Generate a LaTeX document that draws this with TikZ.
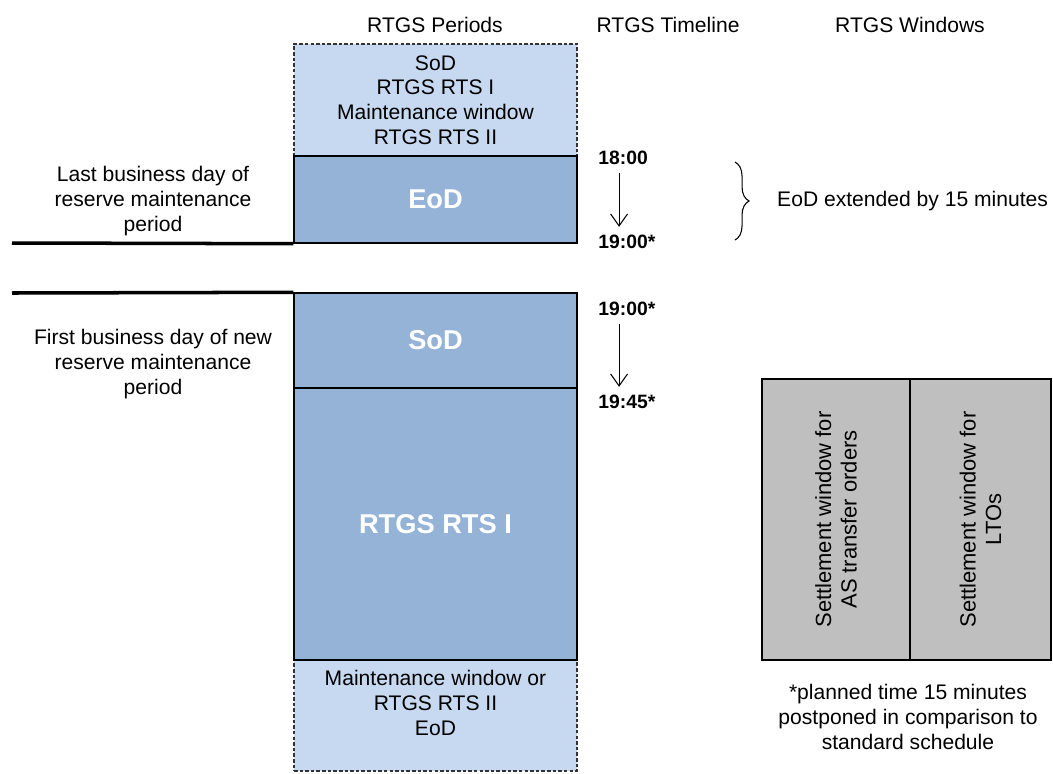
\documentclass[tikz,border=0pt]{standalone}
\usepackage{fontspec}
\setmainfont{Liberation Sans}
\usetikzlibrary{positioning, arrows.meta, calc, decorations.pathreplacing}

\definecolor{lightperiod}{HTML}{C6D9F1}
\definecolor{darkperiod}{HTML}{95B3D7}
\definecolor{windowgray}{HTML}{BFBFBF}

\begin{document}
\begin{tikzpicture}[
    every node/.style={font=\fontsize{12}{14}\selectfont},
    optperiod/.style={
        rectangle,
        draw=black!80,
        fill=lightperiod,
        dash pattern=on 2pt off 1.2pt,
        minimum width=5.66cm,
        align=center,
        line width=0.6pt,
        inner sep=0pt
    },
    period/.style={
        rectangle,
        draw=black,
        fill=darkperiod,
        minimum width=5.66cm,
        align=center,
        line width=0.8pt,
        text=white,
        font=\fontsize{15.5}{18}\selectfont\bfseries,
        inner sep=0pt
    },
    window/.style={
        rectangle,
        draw=black,
        fill=windowgray,
        rotate=90,
        minimum width=5.62cm,
        align=center,
        line width=0.8pt,
        inner sep=0pt,
        font=\fontsize{12.5}{14.5}\selectfont
    },
    time/.style={
        anchor=west,
        inner sep=0pt,
        font=\fontsize{11}{13}\selectfont\bfseries
    },
    arrow/.style={
        -{Straight Barb[length=2.4mm,width=3.4mm]},
        line width=0.6pt,
        color=black
    },
    dayline/.style={
        line width=2pt,
        color=black
    }
]
\useasboundingbox (0,0) rectangle (21.06,-15.46);

% Column headings
\node (hperiods) at (8.70,-0.50) {RTGS Periods};
\node (htimeline) at (13.36,-0.50) {RTGS Timeline};
\node (hwindows) at (18.20,-0.50) {RTGS Windows};

% Last business day
\node[optperiod, minimum height=2.24cm] (topopt) at (8.71,-2.00)
    {SoD\\RTGS RTS I\\Maintenance window\\RTGS RTS II};
\node[period, minimum height=1.74cm] (eodlast) at (8.71,-3.99) {EoD};
\node[align=center] (lastday) at (3.06,-4.02)
    {Last business day of\\reserve maintenance\\period};
\coordinate (lastend) at (0.24,-4.86);
\draw[dayline] (lastend) -- (eodlast.south west);

% First business day
\node[optperiod, minimum height=2.22cm] (botopt) at (8.71,-14.31) {};
\node[align=center, anchor=north] (botopttext) at ($(botopt.north)+(0,-0.10)$)
    {Maintenance window or\\RTGS RTS II\\EoD};
\node[period, minimum height=1.90cm] (sodfirst) at (8.71,-6.81) {SoD};
\node[period, minimum height=5.44cm] (rtsfirst) at (8.71,-10.48) {RTGS RTS I};
\node[align=center] (firstday) at (3.06,-7.28)
    {First business day of new\\reserve maintenance\\period};
\coordinate (firstend) at (0.24,-5.86);
\draw[dayline] (firstend) -- (sodfirst.north west);

% Timeline
\node[time] (t1800) at (11.96,-3.16) {18:00};
\node[time] (t1900a) at (11.96,-4.84) {19:00*};
\node[time] (t1900b) at (11.96,-6.18) {19:00*};
\node[time] (t1945) at (11.96,-8.04) {19:45*};
\draw[arrow] ($(t1800.south)+(-0.08,-0.16)$) -- ($(t1800.south |- t1900a.north)+(-0.08,0.16)$);
\draw[arrow] ($(t1800.south |- t1900b.south)+(-0.08,-0.16)$) -- ($(t1800.south |- t1945.north)+(-0.08,0.16)$);

% EoD extension
\coordinate (bracetop) at (14.70,-3.24);
\coordinate (bracebot) at (14.70,-4.80);
\draw[line width=0.6pt, decorate, decoration={brace, amplitude=8pt}]
    (bracetop) -- (bracebot);
\node[anchor=west] (eodext) at ($(bracetop)!0.5!(bracebot)+(0.72,0)$)
    {EoD extended by 15 minutes};

% Windows
\node[window, minimum height=2.96cm] (aswin) at (16.72,-10.39)
    {Settlement window for\\AS transfer orders};
\node[window, minimum height=2.82cm] (ltowin) at (19.61,-10.39)
    {Settlement window for\\LTOs};

% Footnote
\node[align=center] (footnote) at (18.16,-14.34)
    {*planned time 15 minutes\\postponed in comparison to\\standard schedule};

\end{tikzpicture}
\end{document}
